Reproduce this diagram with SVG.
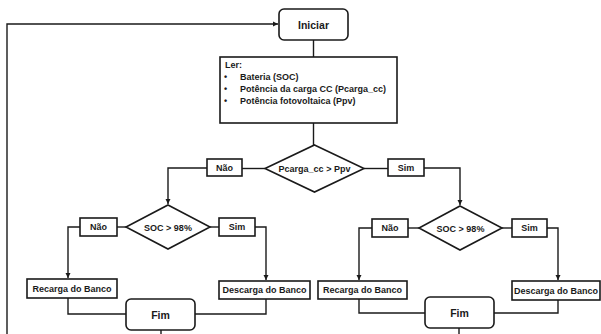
<svg xmlns="http://www.w3.org/2000/svg" width="601" height="334" viewBox="0 0 601 334">
<style>
.box{fill:#fff;stroke:#1a1a1a;stroke-width:1.6}
.ln{fill:none;stroke:#1a1a1a;stroke-width:1.4}
.t{font-family:"Liberation Sans",Arial,sans-serif;font-weight:bold;font-size:9px;fill:#1a1a1a;text-anchor:middle;dominant-baseline:central}
.tl{font-family:"Liberation Sans",Arial,sans-serif;font-weight:bold;font-size:9px;fill:#1a1a1a}
.big{font-size:10.5px}
</style>
<defs>
<marker id="ah" markerWidth="6" markerHeight="6" refX="5" refY="3" orient="auto" markerUnits="userSpaceOnUse">
<path d="M0,0.5 L5,3 L0,5.5 Z" fill="#1a1a1a"/>
</marker>
</defs>
<g id="connectors">
<path class="ln" d="M7,334 V24 H278" marker-end="url(#ah)"/>
<path class="ln" d="M313.5,40 V57"/>
<path class="ln" d="M313.5,123 V145"/>
<path class="ln" d="M265,168.5 H242"/>
<path class="ln" d="M207,168 H168 V204" marker-end="url(#ah)"/>
<path class="ln" d="M364,168.5 H388"/>
<path class="ln" d="M424,168 H460 V205" marker-end="url(#ah)"/>
<path class="ln" d="M126,227 H117"/>
<path class="ln" d="M80,227 H68 V278" marker-end="url(#ah)"/>
<path class="ln" d="M210,227 H219"/>
<path class="ln" d="M255,227 H266 V280" marker-end="url(#ah)"/>
<path class="ln" d="M419,228 H408"/>
<path class="ln" d="M372,228 H359 V280" marker-end="url(#ah)"/>
<path class="ln" d="M502,228 H512"/>
<path class="ln" d="M547,228 H558 V280" marker-end="url(#ah)"/>
<path class="ln" d="M68,298 V314 H126"/>
<path class="ln" d="M266,299 V314 H195"/>
<path class="ln" d="M161,330 V334"/>
<path class="ln" d="M359,299 V313 H425"/>
<path class="ln" d="M558,300 V313 H494"/>
<path class="ln" d="M459,328 V334"/>
</g>
<g id="iniciar">
<rect class="box" x="279" y="9" width="69" height="31" rx="5"/>
<text class="t big" x="313.5" y="24.5">Iniciar</text>
</g>
<g id="ler">
<rect class="box" x="220" y="57" width="177" height="66"/>
<text class="tl" x="225" y="68">Ler:</text>
<text class="tl" x="224" y="80">•</text>
<text class="tl" x="240" y="80">Bateria (SOC)</text>
<text class="tl" x="224" y="92">•</text>
<text class="tl" x="240" y="92">Potência da carga CC (Pcarga_cc)</text>
<text class="tl" x="224" y="104">•</text>
<text class="tl" x="240" y="104">Potência fotovoltaica (Ppv)</text>
</g>
<g id="decisao-principal">
<polygon class="box" points="314.5,145 364,168.5 314.5,192 265,168.5"/>
<text class="t" x="314.5" y="169">Pcarga_cc &gt; Ppv</text>
</g>
<g id="nao-principal">
<rect class="box" x="207" y="159" width="35" height="17"/>
<text class="t" x="224.5" y="167.5">Não</text>
</g>
<g id="sim-principal">
<rect class="box" x="388" y="159" width="36" height="17"/>
<text class="t" x="406" y="167.5">Sim</text>
</g>
<g id="soc-esq">
<polygon class="box" points="168,205 210,227 168,249 126,227"/>
<text class="t" x="168" y="227.5">SOC &gt; 98%</text>
</g>
<g id="nao-esq">
<rect class="box" x="80" y="218" width="37" height="18"/>
<text class="t" x="98.5" y="227">Não</text>
</g>
<g id="sim-esq">
<rect class="box" x="219" y="218" width="36" height="18"/>
<text class="t" x="237" y="227">Sim</text>
</g>
<g id="recarga-esq">
<rect class="box" x="27" y="279" width="90" height="19"/>
<text class="t" x="72" y="288.5">Recarga do Banco</text>
</g>
<g id="descarga-esq">
<rect class="box" x="219" y="281" width="91" height="18"/>
<text class="t" x="264.5" y="290">Descarga do Banco</text>
</g>
<g id="fim-esq">
<rect class="box" x="126" y="299" width="69" height="31" rx="5"/>
<text class="t big" x="160.5" y="314.5">Fim</text>
</g>
<g id="soc-dir">
<polygon class="box" points="460,206 502,228 460,250 419,228"/>
<text class="t" x="460.5" y="228.5">SOC &gt; 98%</text>
</g>
<g id="nao-dir">
<rect class="box" x="372" y="219" width="36" height="18"/>
<text class="t" x="390" y="228">Não</text>
</g>
<g id="sim-dir">
<rect class="box" x="512" y="219" width="35" height="18"/>
<text class="t" x="529.5" y="228">Sim</text>
</g>
<g id="recarga-dir">
<rect class="box" x="318" y="281" width="89" height="18"/>
<text class="t" x="362.5" y="290">Recarga do Banco</text>
</g>
<g id="descarga-dir">
<rect class="box" x="512" y="281" width="88" height="19"/>
<text class="t" x="556" y="290.5">Descarga do Banco</text>
</g>
<g id="fim-dir">
<rect class="box" x="425" y="297" width="69" height="31" rx="5"/>
<text class="t big" x="459.5" y="312.5">Fim</text>
</g>
</svg>
